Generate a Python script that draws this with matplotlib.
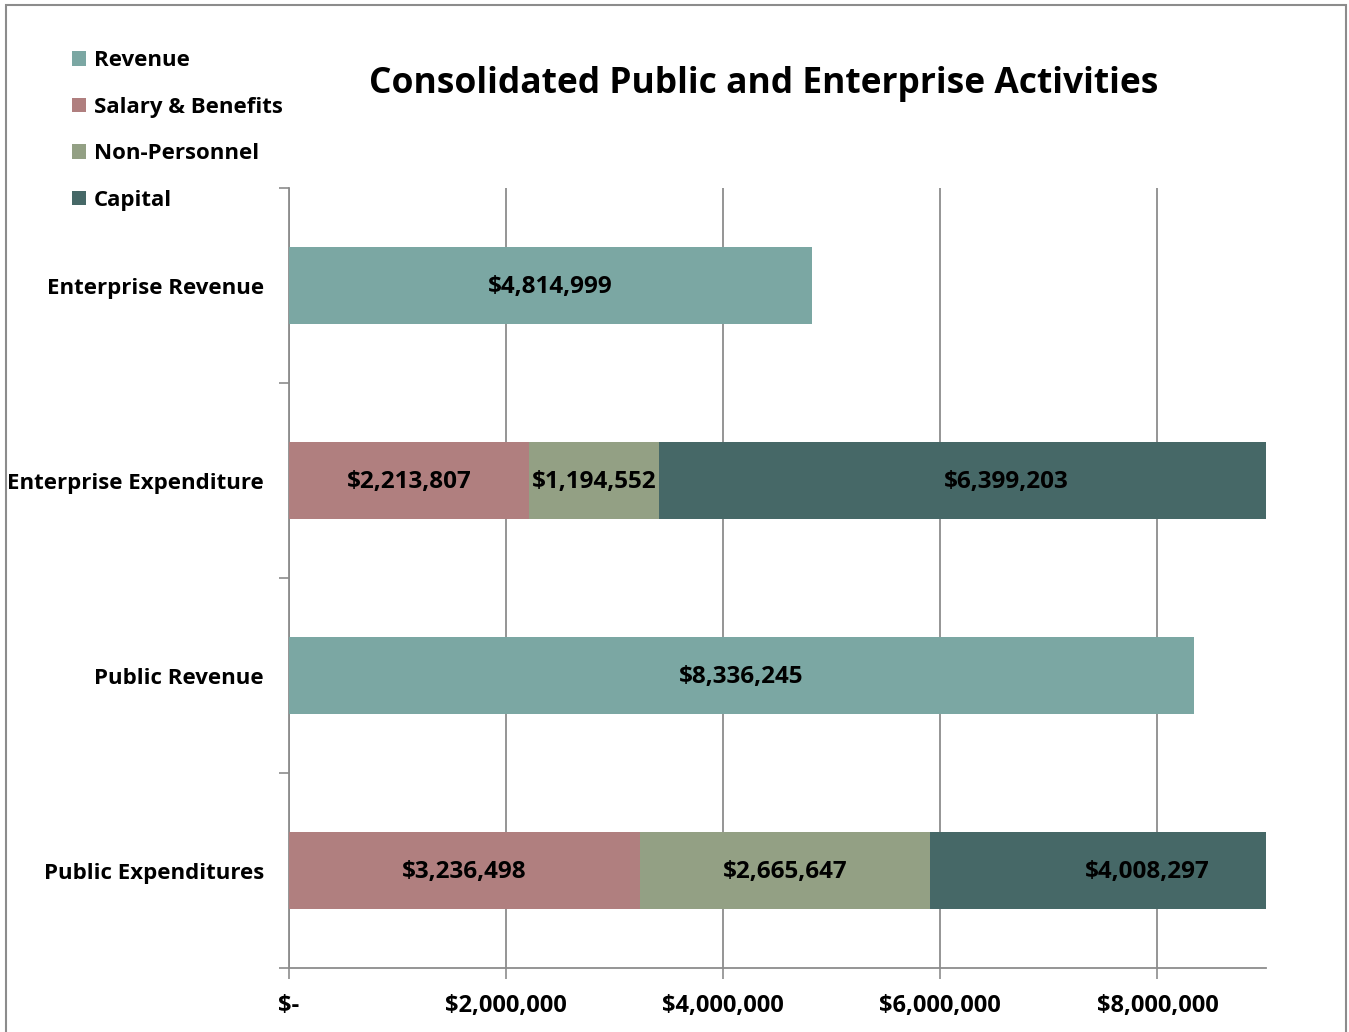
"""Consolidated public and enterprise activities - stacked horizontal bars."""
import matplotlib
matplotlib.use("Agg")
import matplotlib.pyplot as plt
import matplotlib.ticker as ticker
from matplotlib.patches import Rectangle

CATEGORIES = ["Enterprise Revenue", "Enterprise Expenditure", "Public Revenue", "Public Expenditures"]
SERIES = ["Revenue", "Salary & Benefits", "Non-Personnel", "Capital"]
REVENUE = [4814999, 0, 8336245, 0]
SALARY = [0, 2213807, 0, 3236498]
NON_PERSONNEL = [0, 1194552, 0, 2665647]
CAPITAL = [0, 6399203, 0, 4008297]
X_TICKS = [0, 2000000, 4000000, 6000000, 8000000]

COLORS = ["#7ba7a3", "#b07f7f", "#93a084", "#466867"]
GRID = "#8c8c8c"

plt.rcParams["font.family"] = ["Open Sans", "DejaVu Sans"]
plt.rcParams["font.weight"] = "bold"

fig = plt.figure(figsize=(13.49, 10.32), dpi=100)
ax = fig.add_axes([0.2142, 0.0620, 0.7243, 0.7558])

ypos = list(range(len(CATEGORIES)))
left = [0] * len(CATEGORIES)
containers = []
for name, vals, col in zip(SERIES, [REVENUE, SALARY, NON_PERSONNEL, CAPITAL], COLORS):
    bars = ax.barh(ypos, vals, left=left, height=0.395, color=col, label=name, zorder=3)
    containers.append(bars)
    # labels sit at the middle of the full segment, even where the bar runs past the axis
    for y, l0, v in zip(ypos, left, vals):
        if v:
            ax.text(l0 + v / 2, y + 0.01, f"${v:,.0f}", ha="center", va="center",
                    fontsize=17.5, fontweight="bold", zorder=4)
    left = [a + b for a, b in zip(left, vals)]

ax.set_xlim(0, 9000000)
ax.set_ylim(len(CATEGORIES) - 0.5, -0.5)
ax.set_xticks(X_TICKS)
ax.xaxis.set_major_formatter(ticker.FuncFormatter(lambda x, _: "$-" if x == 0 else f"${x:,.0f}"))
ax.tick_params(axis="x", length=8, width=1.2, color=GRID, pad=10.5, labelsize=17)
ax.set_yticks(ypos)
ax.set_yticklabels(CATEGORIES, fontsize=16, fontweight="bold")
ax.set_yticks([i - 0.5 for i in range(len(CATEGORIES) + 1)], minor=True)
ax.tick_params(axis="y", which="major", length=0, pad=18)
ax.tick_params(axis="y", which="minor", length=7, width=1.2, color=GRID)

ax.grid(True, axis="x", color=GRID, linewidth=1.3, zorder=0)
for s in ["top", "right"]:
    ax.spines[s].set_visible(False)
for s in ["left", "bottom"]:
    ax.spines[s].set_color(GRID)
    ax.spines[s].set_linewidth(1.3)

fig.text(0.566, 0.919, "Consolidated Public and Enterprise Activities", ha="center", va="center",
         fontsize=25.5, fontweight="bold")

fig.legend(handles=containers, labels=SERIES, loc="upper left", bbox_to_anchor=(0.0468, 0.960),
           frameon=False, fontsize=16, handlelength=0.62, handleheight=0.62, handletextpad=0.36,
           labelspacing=1.15, borderaxespad=0)

fig.patches.append(Rectangle((0.0045, -0.01), 0.9935, 1.005, transform=fig.transFigure,
                             fill=False, edgecolor="#8c8c8c", linewidth=1.5))

fig.savefig("out.png", dpi=100)
